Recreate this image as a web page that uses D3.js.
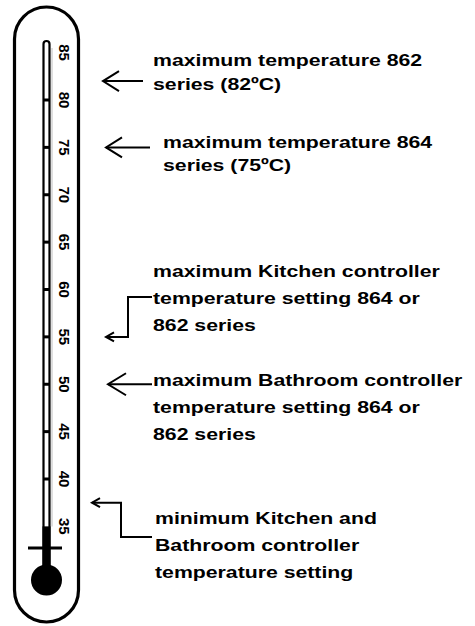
<!DOCTYPE html>
<html>
<head>
<meta charset="utf-8">
<script src="https://cdn.jsdelivr.net/npm/d3@7"></script>
<style>
  html, body { margin: 0; padding: 0; background: #fff; }
  svg { display: block; }
  text { font-family: "Liberation Sans", Arial, Helvetica, sans-serif; font-weight: bold; fill: #000; }
</style>
</head>
<body>
<svg id="chart" width="475" height="626"></svg>
<script>
// ---- data ----
const scaleMin = 35;
const scaleMax = 85;
const tickValues = [35, 40, 45, 50, 55, 60, 65, 70, 75, 80, 85];
const tickLabels = ["35", "40", "45", "50", "55", "60", "65", "70", "75", "80", "85"];
const dividerValues = [40, 45, 50, 55, 60, 65, 70, 75, 80];
const fillValue = 35;
const annotationValues = [82, 75, 55, 50, 37.5];
const annotationStyles = ["straight", "straight", "elbowDown", "straight", "elbowUp"];
const annotationLines = [
  ["maximum temperature 862", "series (82\u00BAC)"],
  ["maximum temperature 864", "series (75\u00BAC)"],
  ["maximum Kitchen controller", "temperature setting 864 or", "862 series"],
  ["maximum Bathroom controller", "temperature setting 864 or", "862 series"],
  ["minimum Kitchen and", "Bathroom controller", "temperature setting"]
];

// ---- layout ----
const svg = d3.select("#chart");
const y = d3.scaleLinear().domain([40, 80]).range([479, 100]);

const cx = 46.5;          // thermometer axis
const tubeR = 32;
const tubeTop = 39, tubeBottom = 590;
const capX0 = 43.5, capX1 = 49.5, capTop = 41;
const bulbCy = 580, bulbR = 15.5;

// outer tube
const tube = d3.path();
tube.moveTo(cx - tubeR, tubeBottom);
tube.lineTo(cx - tubeR, tubeTop);
tube.arc(cx, tubeTop, tubeR, Math.PI, 0);
tube.lineTo(cx + tubeR, tubeBottom);
tube.arc(cx, tubeBottom, tubeR, 0, Math.PI);
tube.closePath();
svg.append("path").attr("d", tube.toString())
  .attr("fill", "#fff").attr("stroke", "#000").attr("stroke-width", 3.2);

// subtle shading lines
svg.append("line").attr("x1", 52).attr("x2", 52).attr("y1", 48).attr("y2", y(fillValue))
  .attr("stroke", "#c8c8c8").attr("stroke-width", 1.2);

// capillary
const cap = d3.path();
const cr = (capX1 - capX0) / 2;
cap.moveTo(capX0, bulbCy);
cap.lineTo(capX0, capTop + cr);
cap.arc(capX0 + cr, capTop + cr, cr, Math.PI, 0);
cap.lineTo(capX1, bulbCy);
svg.append("path").attr("d", cap.toString())
  .attr("fill", "#fff").attr("stroke", "#000").attr("stroke-width", 2.2);

// dividers
svg.selectAll("line.div").data(dividerValues).join("line")
  .attr("class", "div")
  .attr("x1", capX0).attr("x2", capX1)
  .attr("y1", d => y(d)).attr("y2", d => y(d))
  .attr("stroke", "#000").attr("stroke-width", 3);

// mercury column
svg.append("rect")
  .attr("x", capX0 - 1).attr("width", capX1 - capX0 + 2)
  .attr("y", y(fillValue)).attr("height", bulbCy - y(fillValue))
  .attr("fill", "#000");

// cross bar
svg.append("line").attr("x1", 28).attr("x2", 62).attr("y1", 548).attr("y2", 548)
  .attr("stroke", "#000").attr("stroke-width", 3);

// bulb
svg.append("circle").attr("cx", cx).attr("cy", bulbCy).attr("r", bulbR).attr("fill", "#000");

// tick labels (rotated)
svg.selectAll("text.tick").data(tickValues).join("text")
  .attr("class", "tick")
  .attr("transform", d => `translate(64.5,${y(d)}) rotate(90)`)
  .attr("text-anchor", "middle")
  .attr("dominant-baseline", "central")
  .style("font-size", "15px")
  .text((d, i) => tickLabels[i]);

// annotations
const textPos = [
  { x: 153, y: 66, dy: 24 },
  { x: 163, y: 148, dy: 23 },
  { x: 153, y: 277, dy: 27 },
  { x: 153, y: 386, dy: 27 },
  { x: 155, y: 524, dy: 27 }
];
const arrowGeom = [
  { tip: 103, end: 143, back: 16, spread: 10 },
  { tip: 106, end: 150, back: 16, spread: 10 },
  { tip: 106, elbowX: 128, elbowY: 297, end: 152, back: 8, spread: 4.5 },
  { tip: 108, end: 152, back: 18, spread: 11 },
  { tip: 92, elbowX: 121, elbowY: 537, end: 152, back: 8, spread: 4.5 }
];

annotationValues.forEach((v, i) => {
  const g = svg.append("g");
  const a = arrowGeom[i];
  const ty = y(v);
  const p = d3.path();
  if (annotationStyles[i] === "straight") {
    p.moveTo(a.end, ty);
    p.lineTo(a.tip, ty);
  } else {
    p.moveTo(a.end, a.elbowY);
    p.lineTo(a.elbowX, a.elbowY);
    p.lineTo(a.elbowX, ty);
    p.lineTo(a.tip, ty);
  }
  g.append("path").attr("d", p.toString()).attr("fill", "none")
    .attr("stroke", "#000").attr("stroke-width", 2);
  const h = d3.path();
  h.moveTo(a.tip + a.back, ty - a.spread);
  h.lineTo(a.tip, ty);
  h.lineTo(a.tip + a.back, ty + a.spread);
  g.append("path").attr("d", h.toString()).attr("fill", "none")
    .attr("stroke", "#000").attr("stroke-width", 2);

  const t = textPos[i];
  annotationLines[i].forEach((line, j) => {
    g.append("text")
      .attr("transform", `translate(${t.x},${t.y + j * t.dy}) scale(1.25,1)`)
      .style("font-size", "17px")
      .text(line);
  });
});
</script>
</body>
</html>
